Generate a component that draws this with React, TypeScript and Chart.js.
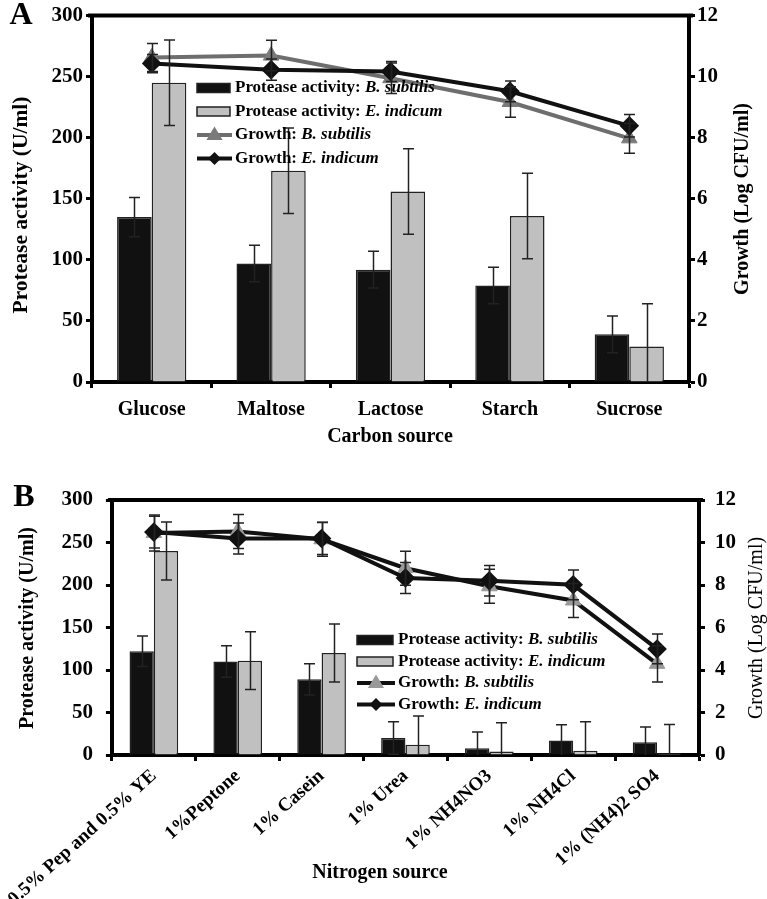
import React, { useEffect, useRef } from "react";
import { Chart, registerables } from "chart.js";

Chart.register(...registerables);

const FONT = '"Liberation Serif", "Times New Roman", serif';

// ---------- Panel A: carbon source ----------
const carbonSources = ["Glucose", "Maltose", "Lactose", "Starch", "Sucrose"];
const carbonProteaseBs = [135, 97, 92, 79, 39];
const carbonProteaseBsErr = [16, 15, 15, 15, 15];
const carbonProteaseEi = [245, 173, 156, 136, 29];
const carbonProteaseEiErr = [35, 35, 35, 35, 35];
const carbonGrowthBs = [10.63, 10.69, 9.95, 9.17, 7.98];
const carbonGrowthBsErr = [0.46, 0.5, 0.5, 0.5, 0.49];
const carbonGrowthEi = [10.43, 10.23, 10.17, 9.52, 8.39];
const carbonGrowthEiErr = [0.3, 0.35, 0.33, 0.34, 0.37];

// ---------- Panel B: nitrogen source ----------
const nitrogenSources = [
  "0.5% Pep and 0.5% YE",
  "1%Peptone",
  "1% Casein",
  "1% Urea",
  "1% NH4NO3",
  "1% NH4Cl",
  "1% (NH4)2 SO4",
];
const nitrogenProteaseBs = [122, 110, 89, 20, 8, 17, 15];
const nitrogenProteaseBsErr = [18, 18.5, 18.5, 19, 19, 18.5, 18];
const nitrogenProteaseEi = [240, 111, 120, 12, 4, 5, 2];
const nitrogenProteaseEiErr = [34, 34, 34, 34, 34, 34, 34];
const nitrogenGrowthBs = [10.45, 10.52, 10.15, 8.79, 7.94, 7.27, 4.29];
const nitrogenGrowthBsErr = [0.85, 0.8, 0.8, 0.8, 0.8, 0.8, 0.85];
const nitrogenGrowthEi = [10.49, 10.19, 10.19, 8.33, 8.2, 8.01, 4.99];
const nitrogenGrowthEiErr = [0.75, 0.73, 0.75, 0.73, 0.72, 0.7, 0.7];

// axis ranges / ticks
const proteaseMin = 0;
const proteaseMax = 300;
const proteaseStep = 50;
const growthMin = 0;
const growthMax = 12;
const growthStep = 2;

const BLACK_BAR = "#111111";
const GREY_BAR = "#c0c0c0";

type ErrSpec = { ds: number; values: number[]; errs: number[]; axis: string };
type LegendItem = {
  kind: "bar" | "line";
  fill?: string;
  lineColor?: string;
  marker?: "triangle" | "diamond";
  markerColor?: string;
  prefix: string;
  species: string;
};

type PanelSpec = {
  canvasW: number;
  canvasH: number;
  letter: string;
  letterPos: [number, number];
  labels: string[];
  bs: number[];
  bsErr: number[];
  ei: number[];
  eiErr: number[];
  gBs: number[];
  gBsErr: number[];
  gEi: number[];
  gEiErr: number[];
  bsLineColor: string;
  bsMarkerColor: string;
  pad: { top: number };
  leftW: number;
  rightW: number;
  bottomH: number;
  leftTickPad: number;
  rightTickPad: number;
  xTickPad: number;
  xTickFont: number;
  rotation: number;
  tickFont: number;
  leftTitle: [number, number];
  rightTitle: [number, number];
  rightTitleWeight: string;
  xTitle: string;
  xTitlePos: [number, number];
  titleFont: number;
  leftTitleFont: number;
  legendPos: [number, number];
  legendRow: number;
  legendSwatch: number;
  legendFont: number;
};

function drawMarker(ctx: CanvasRenderingContext2D, kind: string, x: number, y: number, color: string) {
  ctx.save();
  ctx.fillStyle = color;
  ctx.beginPath();
  if (kind === "triangle") {
    const r = 8.5;
    ctx.moveTo(x, y - r);
    ctx.lineTo(x + r * 0.95, y + r * 0.6);
    ctx.lineTo(x - r * 0.95, y + r * 0.6);
  } else {
    const r = 6.5;
    ctx.moveTo(x, y - r);
    ctx.lineTo(x + r, y);
    ctx.lineTo(x, y + r);
    ctx.lineTo(x - r, y);
  }
  ctx.closePath();
  ctx.fill();
  ctx.restore();
}

function makeOverlay(p: PanelSpec, errors: ErrSpec[], legend: LegendItem[]) {
  return {
    id: "overlay",
    afterDatasetsDraw(chart: any) {
      const ctx: CanvasRenderingContext2D = chart.ctx;
      const area = chart.chartArea;
      ctx.save();
      // top frame line
      ctx.strokeStyle = "#000";
      ctx.lineWidth = 4;
      ctx.beginPath();
      ctx.moveTo(area.left - 4, area.top);
      ctx.lineTo(area.right + 4, area.top);
      ctx.stroke();
      // error bars
      ctx.strokeStyle = "#222";
      ctx.lineWidth = 1.5;
      errors.forEach((e) => {
        const meta = chart.getDatasetMeta(e.ds);
        const scale = chart.scales[e.axis];
        meta.data.forEach((el: any, i: number) => {
          const v = e.values[i];
          const err = e.errs[i];
          const x = Math.round(el.x) + 0.5;
          const yT = scale.getPixelForValue(v + err);
          const lo = Math.max(v - err, scale.min);
          const yB = scale.getPixelForValue(lo);
          ctx.beginPath();
          ctx.moveTo(x, yT);
          ctx.lineTo(x, yB);
          ctx.moveTo(x - 5.5, yT);
          ctx.lineTo(x + 5.5, yT);
          if (v - err > scale.min) {
            ctx.moveTo(x - 5.5, yB);
            ctx.lineTo(x + 5.5, yB);
          }
          ctx.stroke();
        });
      });
      ctx.restore();
    },
    afterDraw(chart: any) {
      const ctx: CanvasRenderingContext2D = chart.ctx;
      ctx.save();
      ctx.fillStyle = "#000";
      // panel letter
      ctx.font = `bold 32px ${FONT}`;
      ctx.textAlign = "center";
      ctx.textBaseline = "middle";
      ctx.fillText(p.letter, p.letterPos[0], p.letterPos[1]);
      // axis titles
      ctx.save();
      ctx.font = `bold ${p.leftTitleFont}px ${FONT}`;
      ctx.translate(p.leftTitle[0], p.leftTitle[1]);
      ctx.rotate(-Math.PI / 2);
      ctx.fillText("Protease activity (U/ml)", 0, 0);
      ctx.restore();
      ctx.save();
      ctx.font = `${p.rightTitleWeight} ${p.titleFont}px ${FONT}`;
      ctx.translate(p.rightTitle[0], p.rightTitle[1]);
      ctx.rotate(-Math.PI / 2);
      ctx.fillText("Growth (Log CFU/ml)", 0, 0);
      ctx.restore();
      ctx.font = `bold ${p.titleFont}px ${FONT}`;
      ctx.fillText(p.xTitle, p.xTitlePos[0], p.xTitlePos[1]);
      // legend
      const [lx, ly] = p.legendPos;
      const sw = p.legendSwatch;
      legend.forEach((it, i) => {
        const cy = ly + i * p.legendRow;
        if (it.kind === "bar") {
          ctx.fillStyle = it.fill || "#000";
          ctx.strokeStyle = "#222";
          ctx.lineWidth = 1.5;
          ctx.fillRect(lx, cy - 4.5, sw, 9);
          ctx.strokeRect(lx, cy - 4.5, sw, 9);
        } else {
          ctx.strokeStyle = it.lineColor || "#000";
          ctx.lineWidth = 4;
          ctx.beginPath();
          ctx.moveTo(lx, cy);
          ctx.lineTo(lx + sw + 2, cy);
          ctx.stroke();
          drawMarker(ctx, it.marker || "diamond", lx + sw / 2 + 1, cy, it.markerColor || "#000");
        }
        ctx.fillStyle = "#000";
        ctx.textAlign = "left";
        ctx.textBaseline = "middle";
        ctx.font = `bold ${p.legendFont}px ${FONT}`;
        const tx = lx + sw + 5;
        ctx.fillText(it.prefix, tx, cy);
        const w = ctx.measureText(it.prefix).width;
        ctx.font = `italic bold ${p.legendFont}px ${FONT}`;
        ctx.fillText(it.species, tx + w, cy);
      });
      ctx.restore();
    },
  };
}

function buildConfig(p: PanelSpec): any {
  const errors: ErrSpec[] = [
    { ds: 0, values: p.bs, errs: p.bsErr, axis: "y" },
    { ds: 1, values: p.ei, errs: p.eiErr, axis: "y" },
    { ds: 2, values: p.gBs, errs: p.gBsErr, axis: "y1" },
    { ds: 3, values: p.gEi, errs: p.gEiErr, axis: "y1" },
  ];
  const legend: LegendItem[] = [
    { kind: "bar", fill: BLACK_BAR, prefix: "Protease activity: ", species: "B. subtilis" },
    { kind: "bar", fill: GREY_BAR, prefix: "Protease activity: ", species: "E. indicum" },
    { kind: "line", lineColor: p.bsLineColor, marker: "triangle", markerColor: p.bsMarkerColor, prefix: "Growth: ", species: "B. subtilis" },
    { kind: "line", lineColor: "#111", marker: "diamond", markerColor: "#111", prefix: "Growth: ", species: "E. indicum" },
  ];
  const tickFont = { family: FONT, size: p.tickFont, weight: "bold" as const };
  return {
    type: "bar",
    data: {
      labels: p.labels,
      datasets: [
        {
          type: "bar",
          label: "Protease activity: B. subtilis",
          data: p.bs,
          backgroundColor: BLACK_BAR,
          borderColor: "#222",
          borderWidth: 1.5,
          yAxisID: "y",
          order: 3,
          barPercentage: 1,
          categoryPercentage: 0.58,
        },
        {
          type: "bar",
          label: "Protease activity: E. indicum",
          data: p.ei,
          backgroundColor: GREY_BAR,
          borderColor: "#222",
          borderWidth: 1.5,
          yAxisID: "y",
          order: 3,
          barPercentage: 1,
          categoryPercentage: 0.58,
        },
        {
          type: "line",
          label: "Growth: B. subtilis",
          data: p.gBs,
          borderColor: p.bsLineColor,
          borderWidth: 4,
          pointStyle: "triangle",
          pointRadius: 9,
          pointBackgroundColor: p.bsMarkerColor,
          pointBorderColor: p.bsMarkerColor,
          pointBorderWidth: 1,
          tension: 0,
          yAxisID: "y1",
          order: 2,
        },
        {
          type: "line",
          label: "Growth: E. indicum",
          data: p.gEi,
          borderColor: "#111",
          borderWidth: 4,
          pointStyle: "rectRot",
          pointRadius: 7,
          pointBackgroundColor: "#111",
          pointBorderColor: "#111",
          tension: 0,
          yAxisID: "y1",
          order: 1,
        },
      ],
    },
    options: {
      responsive: false,
      animation: false,
      devicePixelRatio: 1,
      layout: { padding: { top: p.pad.top, left: 0, right: 0, bottom: 0 } },
      plugins: { legend: { display: false }, tooltip: { enabled: false } },
      scales: {
        x: {
          type: "category",
          offset: true,
          grid: {
            display: true,
            drawOnChartArea: false,
            drawTicks: true,
            tickLength: 6,
            tickWidth: 3,
            tickColor: "#000",
            offset: true,
          },
          border: { display: true, width: 4, color: "#000" },
          ticks: {
            color: "#000",
            font: { family: FONT, size: p.xTickFont, weight: "bold" },
            padding: p.xTickPad,
            maxRotation: p.rotation,
            minRotation: p.rotation,
            autoSkip: false,
          },
          afterFit: (s: any) => {
            s.height = p.bottomH;
          },
        },
        y: {
          position: "left",
          min: proteaseMin,
          max: proteaseMax,
          ticks: { stepSize: proteaseStep, color: "#000", font: tickFont, padding: p.leftTickPad },
          grid: { drawOnChartArea: false, drawTicks: true, tickLength: 6, tickWidth: 3, tickColor: "#000" },
          border: { display: true, width: 4, color: "#000" },
          afterFit: (s: any) => {
            s.width = p.leftW;
          },
        },
        y1: {
          position: "right",
          min: growthMin,
          max: growthMax,
          ticks: { stepSize: growthStep, color: "#000", font: tickFont, padding: p.rightTickPad },
          grid: { drawOnChartArea: false, drawTicks: true, tickLength: 6, tickWidth: 3, tickColor: "#000" },
          border: { display: true, width: 4, color: "#000" },
          afterFit: (s: any) => {
            s.width = p.rightW;
          },
        },
      },
    },
    plugins: [makeOverlay(p, errors, legend)],
  };
}

const panelA: PanelSpec = {
  canvasW: 767,
  canvasH: 450,
  letter: "A",
  letterPos: [21, 16],
  labels: carbonSources,
  bs: carbonProteaseBs,
  bsErr: carbonProteaseBsErr,
  ei: carbonProteaseEi,
  eiErr: carbonProteaseEiErr,
  gBs: carbonGrowthBs,
  gBsErr: carbonGrowthBsErr,
  gEi: carbonGrowthEi,
  gEiErr: carbonGrowthEiErr,
  bsLineColor: "#6e6e6e",
  bsMarkerColor: "#7a7a7a",
  pad: { top: 15 },
  leftW: 92,
  rightW: 78,
  bottomH: 68,
  leftTickPad: 3,
  rightTickPad: 2,
  xTickPad: 10,
  xTickFont: 20,
  rotation: 0,
  tickFont: 21,
  leftTitle: [21, 205],
  rightTitle: [743, 199],
  rightTitleWeight: "bold",
  xTitle: "Carbon source",
  xTitlePos: [390, 437],
  titleFont: 20,
  leftTitleFont: 21.5,
  legendPos: [197, 88],
  legendRow: 23.5,
  legendSwatch: 33,
  legendFont: 17,
};

const panelB: PanelSpec = {
  canvasW: 767,
  canvasH: 449,
  letter: "B",
  letterPos: [24, 48],
  labels: nitrogenSources,
  bs: nitrogenProteaseBs,
  bsErr: nitrogenProteaseBsErr,
  ei: nitrogenProteaseEi,
  eiErr: nitrogenProteaseEiErr,
  gBs: nitrogenGrowthBs,
  gBsErr: nitrogenGrowthBsErr,
  gEi: nitrogenGrowthEi,
  gEiErr: nitrogenGrowthEiErr,
  bsLineColor: "#111",
  bsMarkerColor: "#999999",
  pad: { top: 50 },
  leftW: 99,
  rightW: 68,
  bottomH: 144,
  leftTickPad: 13,
  rightTickPad: 10,
  xTickPad: 4,
  xTickFont: 19,
  rotation: 42,
  tickFont: 21,
  leftTitle: [28, 178],
  rightTitle: [757, 178],
  rightTitleWeight: "normal",
  xTitle: "Nitrogen source",
  xTitlePos: [380, 423],
  titleFont: 20,
  leftTitleFont: 20,
  legendPos: [357, 190],
  legendRow: 21.5,
  legendSwatch: 36,
  legendFont: 17,
};

function Panel({ spec, top }: { spec: PanelSpec; top: number }) {
  const ref = useRef<HTMLCanvasElement | null>(null);
  useEffect(() => {
    if (!ref.current) return;
    const chart = new Chart(ref.current, buildConfig(spec));
    return () => chart.destroy();
  }, [spec]);
  return (
    <canvas
      ref={ref}
      width={spec.canvasW}
      height={spec.canvasH}
      style={{
        position: "absolute",
        left: 0,
        top,
        width: spec.canvasW,
        height: spec.canvasH,
        display: "block",
      }}
    />
  );
}

export default function App() {
  return (
    <div
      style={{
        position: "absolute",
        left: 0,
        top: 0,
        width: 767,
        height: 899,
        background: "#fff",
        overflow: "hidden",
      }}
    >
      <Panel spec={panelA} top={0} />
      <Panel spec={panelB} top={450} />
    </div>
  );
}
